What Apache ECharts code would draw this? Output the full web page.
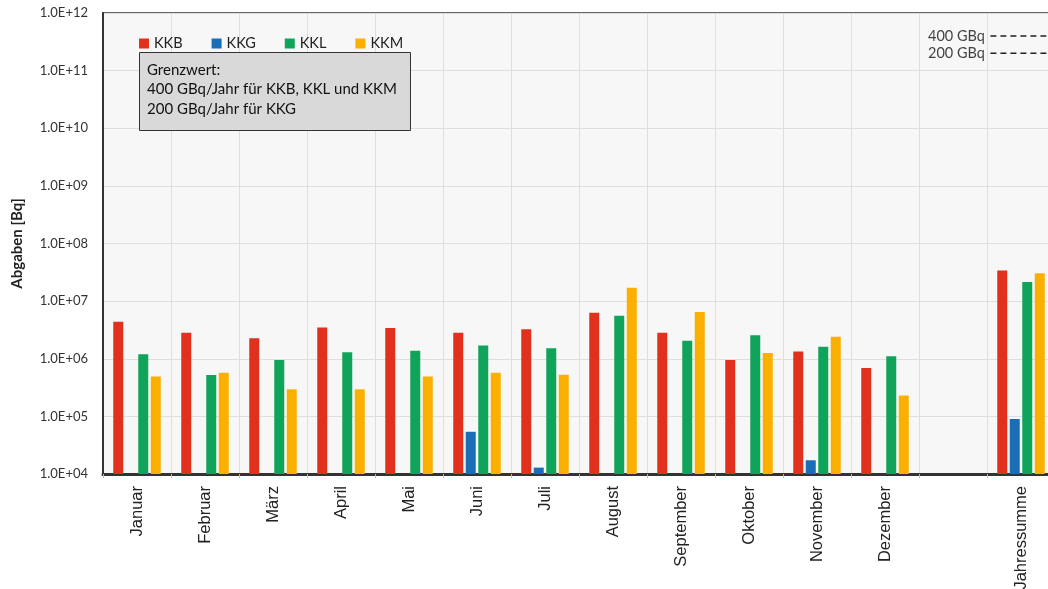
<!DOCTYPE html>
<html>
<head>
<meta charset="utf-8">
<script src="https://cdn.jsdelivr.net/npm/echarts@6/dist/echarts.min.js"></script>
<style>html,body{margin:0;padding:0;background:#fff;}#c{width:1048px;height:589px;}</style>
</head>
<body>
<div id="c"></div>
<script>
const categories = ['Januar','Februar','März','April','Mai','Juni','Juli','August','September','Oktober','November','Dezember','','Jahressumme'];
const kkb = [4.4e6, 2.84e6, 2.27e6, 3.5e6, 3.4e6, 2.84e6, 3.25e6, 6.3e6, 2.84e6, 9.5e5, 1.33e6, 6.9e5, null, 3.39e7];
const kkg = [null, null, null, null, null, 5.4e4, 1.29e4, null, null, null, 1.73e4, null, null, 9.0e4];
const kkl = [1.2e6, 5.2e5, 9.5e5, 1.3e6, 1.38e6, 1.69e6, 1.52e6, 5.6e6, 2.06e6, 2.55e6, 1.62e6, 1.1e6, null, 2.15e7];
const kkm = [4.9e5, 5.7e5, 2.95e5, 2.95e5, 4.9e5, 5.7e5, 5.3e5, 1.71e7, 6.5e6, 1.26e6, 2.42e6, 2.3e5, null, 3.05e7];
const limitValues = [4e11, 2e11];
const limitLabels = ['400 GBq', '200 GBq'];
const boxLines = ['Grenzwert:', '400 GBq/Jahr für KKB, KKL und KKM', '200 GBq/Jahr für KKG'];

const colors = {KKB:'#e0301e', KKG:'#1b6db5', KKL:'#10a35a', KKM:'#fbb000'};

function fmt(v){
  const e = Math.round(Math.log10(v));
  return '1.0E+' + (e < 10 ? '0' + e : '' + e);
}

const chart = echarts.init(document.getElementById('c'));
const barBase = {type:'bar', barWidth:10, barGap:'25%', xAxisIndex:0, yAxisIndex:0};
const LSTART = 13.05, LEND = 14.3;
const limitSeries = [];
limitValues.forEach((v,i)=>{
  limitSeries.push({
    type:'line', xAxisIndex:1, yAxisIndex:0, silent:true, symbol:'none',
    lineStyle:{color:'#222', width:1.6, type:[6,4]},
    data:[[LSTART, v],[LEND, v]]
  });
  limitSeries.push({
    type:'scatter', xAxisIndex:1, yAxisIndex:0, silent:true, symbolSize:1,
    itemStyle:{color:'rgba(0,0,0,0)'},
    data:[[LSTART, v]],
    label:{show:true, position:'left', formatter:limitLabels[i], color:'#111', fontFamily:'Lato', fontSize:14.5, distance:5}
  });
});

chart.setOption({
  animation:false,
  color:[colors.KKB, colors.KKG, colors.KKL, colors.KKM],
  grid:{left:103, right:-7, top:13, bottom:115, outerBoundsMode:'none', containLabel:false, show:true, backgroundColor:'#f7f7f7', borderColor:'#333', borderWidth:1.5},
  legend:{
    data:['KKB','KKG','KKL','KKM'], left:134, top:31, itemWidth:10, itemHeight:10, itemGap:29,
    icon:'rect', textStyle:{fontFamily:'Lato', fontSize:14.5, color:'#222'}
  },
  graphic:[
    {type:'rect', left:139, top:52, shape:{width:271, height:78}, style:{fill:'#d9d9d9', stroke:'#333', lineWidth:1}, z:10},
    {type:'text', left:147, top:60, style:{text:boxLines.join('\n'), fill:'#111', font:'15px Lato', lineHeight:19.5}, z:11}
  ],
  xAxis:[{
    type:'category', data:categories, boundaryGap:true,
    axisLine:{lineStyle:{color:'#333', width:3}},
    axisTick:{show:true, length:4, lineStyle:{color:'#bbb'}},
    splitLine:{show:true, lineStyle:{color:'#dedede', width:1}},
    axisLabel:{rotate:90, interval:0, fontFamily:'Liberation Sans', fontSize:16.5, color:'#222', margin:12}
  },{
    type:'value', min:0, max:14, show:false
  }],
  yAxis:{
    type:'log', logBase:10, min:1e4, max:1e12,
    name:'Abgaben [Bq]', nameLocation:'middle', nameGap:78,
    nameTextStyle:{fontFamily:'Lato', fontWeight:'bold', fontSize:15, color:'#222'},
    axisLine:{show:true, lineStyle:{color:'#333', width:2}},
    axisTick:{show:false},
    splitLine:{show:true, lineStyle:{color:'#dedede'}},
    minorSplitLine:{show:false},
    axisLabel:{formatter:fmt, fontFamily:'Lato', fontSize:13, color:'#333', margin:15}
  },
  series:[
    Object.assign({name:'KKB', data:kkb, itemStyle:{color:colors.KKB}}, barBase),
    Object.assign({name:'KKG', data:kkg, itemStyle:{color:colors.KKG}}, barBase),
    Object.assign({name:'KKL', data:kkl, itemStyle:{color:colors.KKL}}, barBase),
    Object.assign({name:'KKM', data:kkm, itemStyle:{color:colors.KKM}}, barBase)
  ].concat(limitSeries)
});
</script>
</body>
</html>
